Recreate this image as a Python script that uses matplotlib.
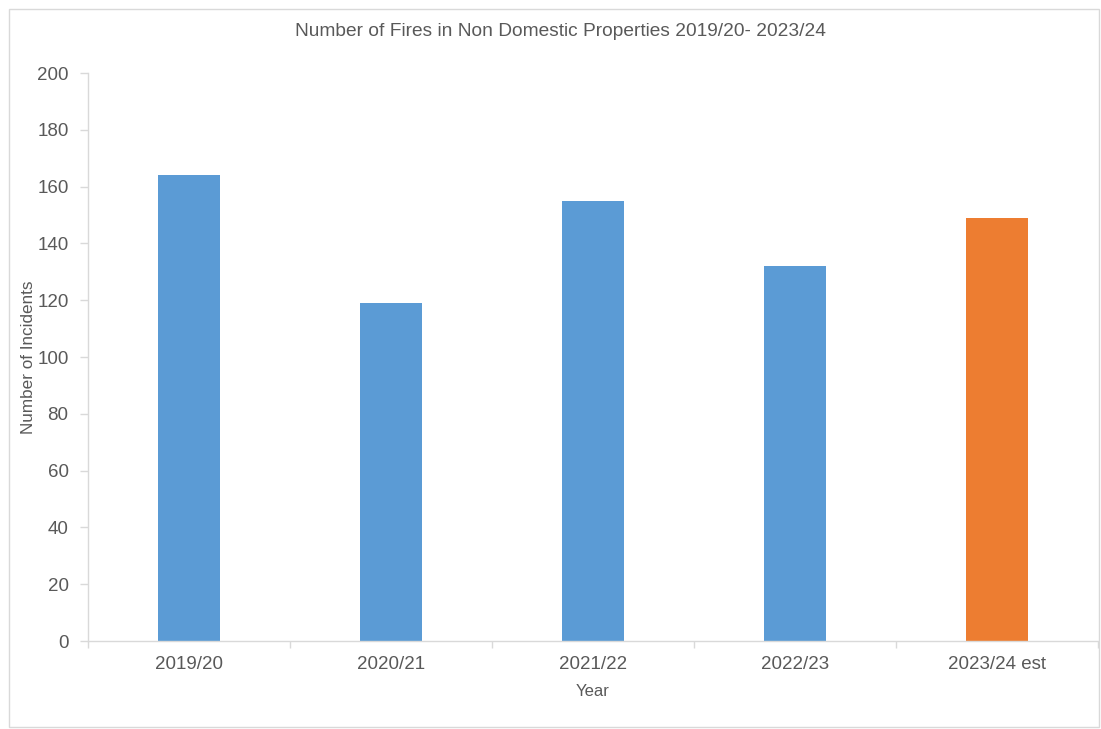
import matplotlib
matplotlib.use("Agg")
import matplotlib.pyplot as plt
from matplotlib.patches import Rectangle

years = ["2019/20", "2020/21", "2021/22", "2022/23", "2023/24 est"]
incidents = [164, 119, 155, 132, 149]
bar_colors = ["#5B9BD5", "#5B9BD5", "#5B9BD5", "#5B9BD5", "#ED7D31"]

plt.rcParams["font.family"] = ["Liberation Sans", "DejaVu Sans"]
text_grey = "#595959"
line_grey = "#D9D9D9"

W, H = 1101, 729
fig = plt.figure(figsize=(W / 100, H / 100), dpi=100)
fig.patches.append(Rectangle((8.5 / W, 1 - 727 / H), (1099 - 8.5) / W, (727 - 9) / H,
                             transform=fig.transFigure, fill=False,
                             edgecolor=line_grey, linewidth=1))

ax = fig.add_axes([88 / W, 1 - 641 / H, (1098 - 88) / W, (641 - 73) / H])
x = range(len(years))
ax.bar(x, incidents, width=0.31, color=bar_colors)

ax.set_xlim(-0.5, len(years) - 0.5)
ax.set_ylim(0, 200)
ax.set_yticks(range(0, 201, 20))
ax.set_xticks(list(x))
ax.set_xticklabels(years)
ax.set_xticks([i - 0.5 for i in range(len(years) + 1)], minor=True)

for side in ["top", "right"]:
    ax.spines[side].set_visible(False)
for side in ["left", "bottom"]:
    ax.spines[side].set_color(line_grey)
    ax.spines[side].set_linewidth(1)

ax.tick_params(axis="y", colors=line_grey, labelcolor=text_grey, labelsize=13.5,
               length=6, width=1, pad=8)
ax.tick_params(axis="x", which="major", length=0, labelcolor=text_grey,
               labelsize=13.5, pad=11)
ax.tick_params(axis="x", which="minor", colors=line_grey, length=5, width=1)

ax.set_xlabel("Year", color=text_grey, fontsize=12, labelpad=8)
ax.set_ylabel("Number of Incidents", color=text_grey, fontsize=12.3)
ax.yaxis.set_label_coords((36 - 88) / 1010, 0.5)
fig.text(560 / W, 1 - 32 / H, "Number of Fires in Non Domestic Properties 2019/20- 2023/24",
         ha="center", va="center", color=text_grey, fontsize=13.8)

fig.savefig("out.png", dpi=100)
